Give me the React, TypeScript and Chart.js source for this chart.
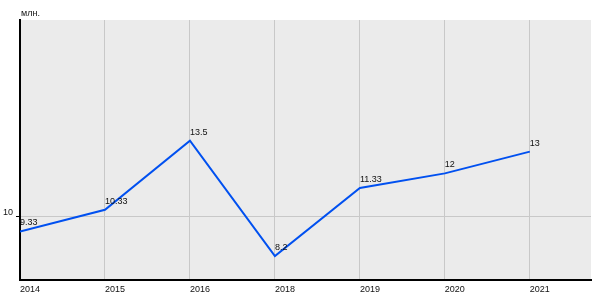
import React, { useEffect, useRef } from "react";
import { Chart, registerables } from "chart.js";

Chart.register(...registerables);

const years = ["2014", "2015", "2016", "2018", "2019", "2020", "2021"];
const values = [9.33, 10.33, 13.5, 8.2, 11.33, 12, 13];
const valueLabels = ["9.33", "10.33", "13.5", "8.2", "11.33", "12", "13"];
const yTicks = [10];
const unitLabel = "млн.";

const FONT = "'Liberation Sans', Arial, sans-serif";
const TEXT = "#111";

export default function App() {
  const ref = useRef<HTMLCanvasElement | null>(null);

  useEffect(() => {
    document.body.style.margin = "0";
    const canvas = ref.current;
    if (!canvas) return;

    const bgPlugin = {
      id: "plotBg",
      beforeDraw(chart: any) {
        const { ctx, chartArea } = chart;
        ctx.save();
        ctx.fillStyle = "#ebebeb";
        ctx.fillRect(chartArea.left, chartArea.top, chartArea.right - chartArea.left, chartArea.bottom - chartArea.top);
        ctx.restore();
      },
    };

    const labelPlugin = {
      id: "valueLabels",
      afterDatasetsDraw(chart: any) {
        const { ctx, chartArea } = chart;
        const meta = chart.getDatasetMeta(0);
        ctx.save();
        ctx.font = `9px ${FONT}`;
        ctx.fillStyle = TEXT;
        ctx.textAlign = "left";
        ctx.textBaseline = "alphabetic";
        meta.data.forEach((pt: any, i: number) => {
          ctx.fillText(valueLabels[i], pt.x, pt.y - 6);
        });
        ctx.fillText(unitLabel, chartArea.left + 1, chartArea.top - 4);
        ctx.restore();
      },
    };

    const chart = new Chart(canvas, {
      type: "line",
      data: {
        datasets: [
          {
            data: values.map((v, i) => ({ x: i, y: v })),
            borderColor: "#0050f0",
            borderWidth: 2,
            pointRadius: 0,
            tension: 0,
            fill: false,
          },
        ],
      },
      options: {
        responsive: false,
        animation: false,
        layout: { padding: { top: 20, right: 9, left: 0, bottom: 0 } },
        plugins: {
          legend: { display: false },
          tooltip: { enabled: false },
          title: { display: false },
        },
        scales: {
          x: {
            type: "linear",
            min: 0,
            max: 6.72,
            afterBuildTicks(scale: any) {
              scale.ticks = years.map((_, i) => ({ value: i }));
            },
            afterFit(scale: any) {
              scale.height = 20;
            },
            grid: { color: "#c8c8c8", lineWidth: 1, drawTicks: false },
            border: { display: true, color: "#000", width: 2 },
            ticks: {
              align: "start",
              padding: 4,
              color: TEXT,
              font: { family: FONT, size: 9 },
              maxRotation: 0,
              autoSkip: false,
              callback: (v: any) => years[v] ?? "",
            },
          },
          y: {
            type: "linear",
            min: 7.1,
            max: 19.05,
            afterBuildTicks(scale: any) {
              scale.ticks = yTicks.map((v) => ({ value: v }));
            },
            afterFit(scale: any) {
              scale.width = 20;
            },
            grid: { color: "#c8c8c8", lineWidth: 1, tickLength: 4, tickColor: "#000" },
            border: { display: true, color: "#000", width: 2 },
            ticks: {
              padding: 3,
              labelOffset: -4,
              color: TEXT,
              font: { family: FONT, size: 9 },
              callback: (v: any) => String(v),
            },
          },
        },
      },
      plugins: [bgPlugin, labelPlugin],
    } as any);

    return () => chart.destroy();
  }, []);

  return (
    <div style={{ position: "fixed", left: 0, top: 0, width: 600, height: 300 }}>
      <canvas ref={ref} width={600} height={300} style={{ width: 600, height: 300 }} />
    </div>
  );
}
